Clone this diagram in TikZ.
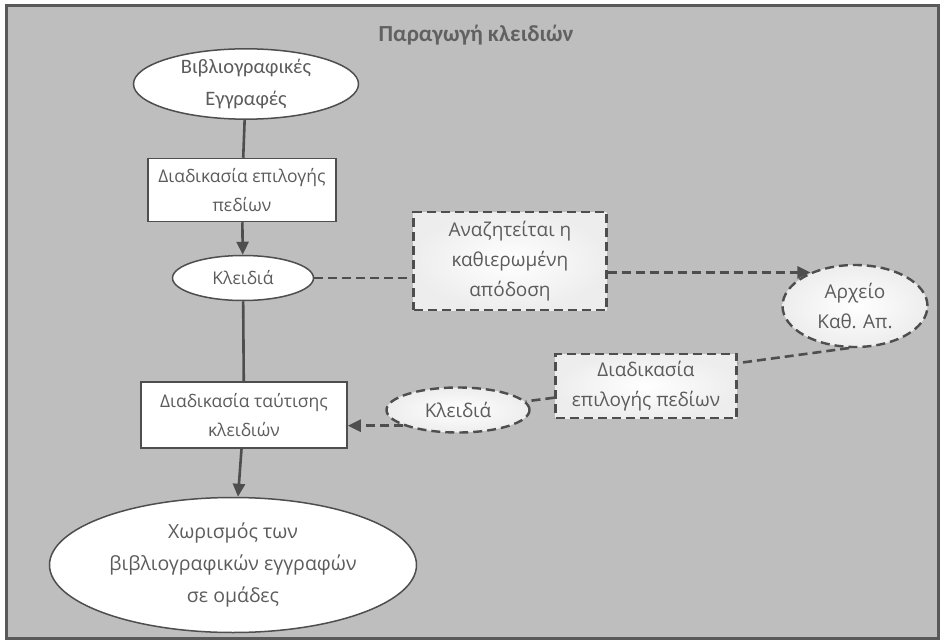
\documentclass[tikz,border=0pt]{standalone}
\usepackage{fontspec}
\setmainfont{Open Sans}
\newfontfamily\calfont{Carlito}
\usetikzlibrary{shapes.geometric,arrows.meta}

\definecolor{bgcol}{RGB}{190,190,190}
\definecolor{linecol}{RGB}{78,78,78}
\definecolor{txtcol}{RGB}{92,92,92}

\begin{document}
\begin{tikzpicture}[x=1pt,y=-1pt,
		font=\fontsize{17.5}{29}\selectfont, text=txtcol,
		conn/.style={draw=linecol, line width=2.6pt},
		dconn/.style={conn, dash pattern=on 9pt off 5pt},
		tip/.style={-{Triangle[length=13pt,width=12pt]}},
		procbox/.style={draw=linecol, line width=1.5pt, fill=white, rectangle, inner sep=0pt, align=center},
		oval/.style={draw=linecol, line width=1.5pt, fill=white, ellipse, inner sep=0pt, align=center},
		dprocbox/.style={procbox, line width=2.4pt, dash pattern=on 9pt off 5pt, fill=none, inner color=white, outer color=gray!14, font=\fontsize{19}{30}\selectfont},
		doval/.style={oval, line width=2.4pt, dash pattern=on 9pt off 5pt, fill=none, inner color=white, outer color=gray!14, font=\fontsize{19}{30}\selectfont}]
		\useasboundingbox (0,0) rectangle (943,642);
		\fill[white] (0,0) rectangle (943,642);
		\draw[fill=bgcol, draw=black!65, line width=3pt] (6,6) rectangle (938,638);
		
		\node[font=\calfont\bfseries\fontsize{23}{28}\selectfont, text=black!62] (title) at (476,35) {Παραγωγή κλειδιών};
		
		\node[oval, minimum width=225pt, minimum height=68pt, font=\calfont\fontsize{20.5}{32}\selectfont] (recs) at (246,84) {Βιβλιογραφικές\\Εγγραφές};
		\node[procbox, minimum width=188pt, minimum height=63pt] (sel) at (242,190) {Διαδικασία επιλογής\\πεδίων};
		\node[oval, minimum width=141pt, minimum height=45pt] (keys) at (243,278) {Κλειδιά};
		\node[dprocbox, minimum width=193pt, minimum height=98pt] (search) at (510,261) {Αναζητείται η\\καθιερωμένη\\απόδοση};
		\node[doval, minimum width=145pt, minimum height=82pt] (arch) at (855,306) {Αρχείο\\Καθ. Απ.};
		\node[dprocbox, minimum width=181pt, minimum height=64pt] (selb) at (646,386) {Διαδικασία\\επιλογής πεδίων};
		\node[doval, minimum width=143pt, minimum height=45pt] (keysb) at (458,410) {Κλειδιά};
		\node[procbox, minimum width=206pt, minimum height=66pt] (match) at (244,415) {Διαδικασία ταύτισης\\κλειδιών};
		\node[oval, minimum width=367pt, minimum height=135pt, font=\fontsize{19.5}{32}\selectfont] (groups) at (233,565) {Χωρισμός των\\βιβλιογραφικών εγγραφών\\σε ομάδες};
		
		\draw[conn] (recs) -- (sel);
		\draw[conn, tip] (sel) -- (keys);
		\draw[conn] (keys) -- (match);
		\draw[conn, tip] (match) -- (groups);
		
		\draw[dconn] (keys.east) -- (keys.east -| search.west);
		\draw[dconn, tip] (search.east |- arch.143) -- (arch.143);
		\draw[dconn] (arch.262) -- (selb.14);
		\draw[dconn] (selb) -- (keysb);
		\draw[dconn, tip] (keysb.196) -- (keysb.196 -| match.east);
\end{tikzpicture}
\end{document}
